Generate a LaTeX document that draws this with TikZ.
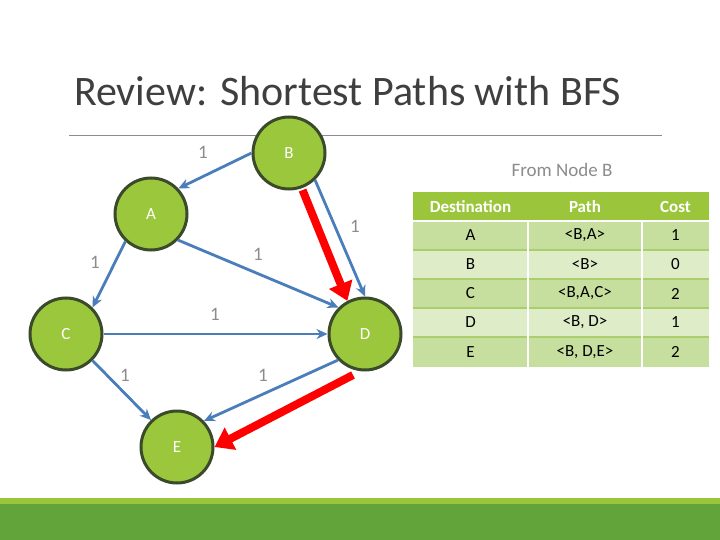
\documentclass[tikz,border=0pt]{standalone}
\usepackage{fontspec}
\setmainfont{Carlito}
\usetikzlibrary{arrows.meta}
\definecolor{nodefill}{HTML}{9AC73B}
\definecolor{nodeline}{HTML}{3A4A2A}
\definecolor{edgeblue}{HTML}{4A7EBB}
\definecolor{labgray}{HTML}{8C8C8C}
\definecolor{hdrgreen}{HTML}{9BC63B}
\definecolor{rowdark}{HTML}{C6DF9E}
\definecolor{rowlight}{HTML}{DEECC8}
\definecolor{rowline}{HTML}{A9CE6B}
\definecolor{bardark}{HTML}{62A439}
\definecolor{titlegray}{HTML}{3F3F3F}
\tikzset{
  vertex/.style={circle, draw=nodeline, line width=3pt, fill=nodefill, minimum size=72pt, inner sep=0pt, text=white, font=\fontsize{17}{19}\selectfont},
  edge/.style={draw=edgeblue, line width=2.8pt, -{Stealth[length=11pt,width=10pt]}},
  redge/.style={draw=red, line width=8pt, -{Triangle[length=18pt,width=24pt]}},
  wlab/.style={text=labgray, font=\fontsize{19}{21}\selectfont},
  hdr/.style={text=white, font=\bfseries\fontsize{17}{19}\selectfont},
  cell/.style={text=black, font=\fontsize{17}{19}\selectfont}
}
\begin{document}
\begin{tikzpicture}[x=1pt,y=-1pt]
\useasboundingbox (0,0) rectangle (720,540);
\fill[white] (0,0) rectangle (720,540);
% bottom bar
\fill[hdrgreen] (0,498) rectangle (720,504);
\fill[bardark] (0,504) rectangle (720,540);
% title
\node[anchor=base west, inner sep=0pt, text=titlegray, font=\fontsize{42}{46}\selectfont] (title) at (74,106) {Review: Shortest Paths with BFS};
\draw[labgray, line width=1pt] (69,136) -- (662,136);
% graph
\node[vertex] (B) at (289,153) {B};
\node[vertex] (A) at (151,214) {A};
\node[vertex] (C) at (66,334) {C};
\node[vertex] (D) at (365,334) {D};
\node[vertex] (E) at (177,447) {E};
\draw[edge] (B.180) -- (A.43);
\draw[edge] (A.-133) -- (C.45);
\draw[edge] (A.-44) -- (D.135);
\draw[edge] (C.0) -- (D.180);
\draw[edge] (C.-45) -- (E.134);
\draw[edge] (D.-136) -- (E.44);
\draw[edge] (B.-46) -- (D.90);
\draw[redge, shorten <=2pt] (B.-70) -- (D.118);
\coordinate (Dr) at (353,375);
\draw[redge] (Dr) -- (E.0);
\node[wlab] (lBA) at (203,152) {1};
\node[wlab] (lAC) at (95,262) {1};
\node[wlab] (lAD) at (258,254) {1};
\node[wlab] (lBD) at (355,226) {1};
\node[wlab] (lCD) at (215,314) {1};
\node[wlab] (lCE) at (125,375) {1};
\node[wlab] (lDE) at (263,375) {1};
% table
\node[text=labgray, font=\fontsize{19}{21}\selectfont] (from) at (562,170) {From Node B};
\fill[hdrgreen] (413,192) rectangle (709,221);
\fill[rowdark] (413,221) rectangle (709,250);
\fill[rowlight] (413,250) rectangle (709,279);
\fill[rowdark] (413,279) rectangle (709,308);
\fill[rowlight] (413,308) rectangle (709,337);
\fill[rowdark] (413,337) rectangle (709,367);
\foreach \y in {250,279,308,337} \draw[rowline, line width=1.5pt] (413,\y) -- (709,\y);
\foreach \x in {528,642} \draw[white, line width=1.5pt] (\x,221) -- (\x,367);
\draw[white, line width=2.5pt] (413,221) -- (709,221);
\node[hdr] (h1) at (470.5,206.5) {Destination};
\node[hdr] (h2) at (585,206.5) {Path};
\node[hdr] (h3) at (675.5,206.5) {Cost};
\node[cell] (a1) at (470.5,235.5) {A};
\node[cell] (a2) at (585,235.5) {<B,A>};
\node[cell] (a3) at (675.5,235.5) {1};
\node[cell] (b1) at (470.5,264.5) {B};
\node[cell] (b2) at (585,264.5) {<B>};
\node[cell] (b3) at (675.5,264.5) {0};
\node[cell] (c1) at (470.5,293.5) {C};
\node[cell] (c2) at (585,293.5) {<B,A,C>};
\node[cell] (c3) at (675.5,293.5) {2};
\node[cell] (d1) at (470.5,322.5) {D};
\node[cell] (d2) at (585,322.5) {<B, D>};
\node[cell] (d3) at (675.5,322.5) {1};
\node[cell] (e1) at (470.5,352) {E};
\node[cell] (e2) at (585,352) {<B, D,E>};
\node[cell] (e3) at (675.5,352) {2};
\end{tikzpicture}
\end{document}
